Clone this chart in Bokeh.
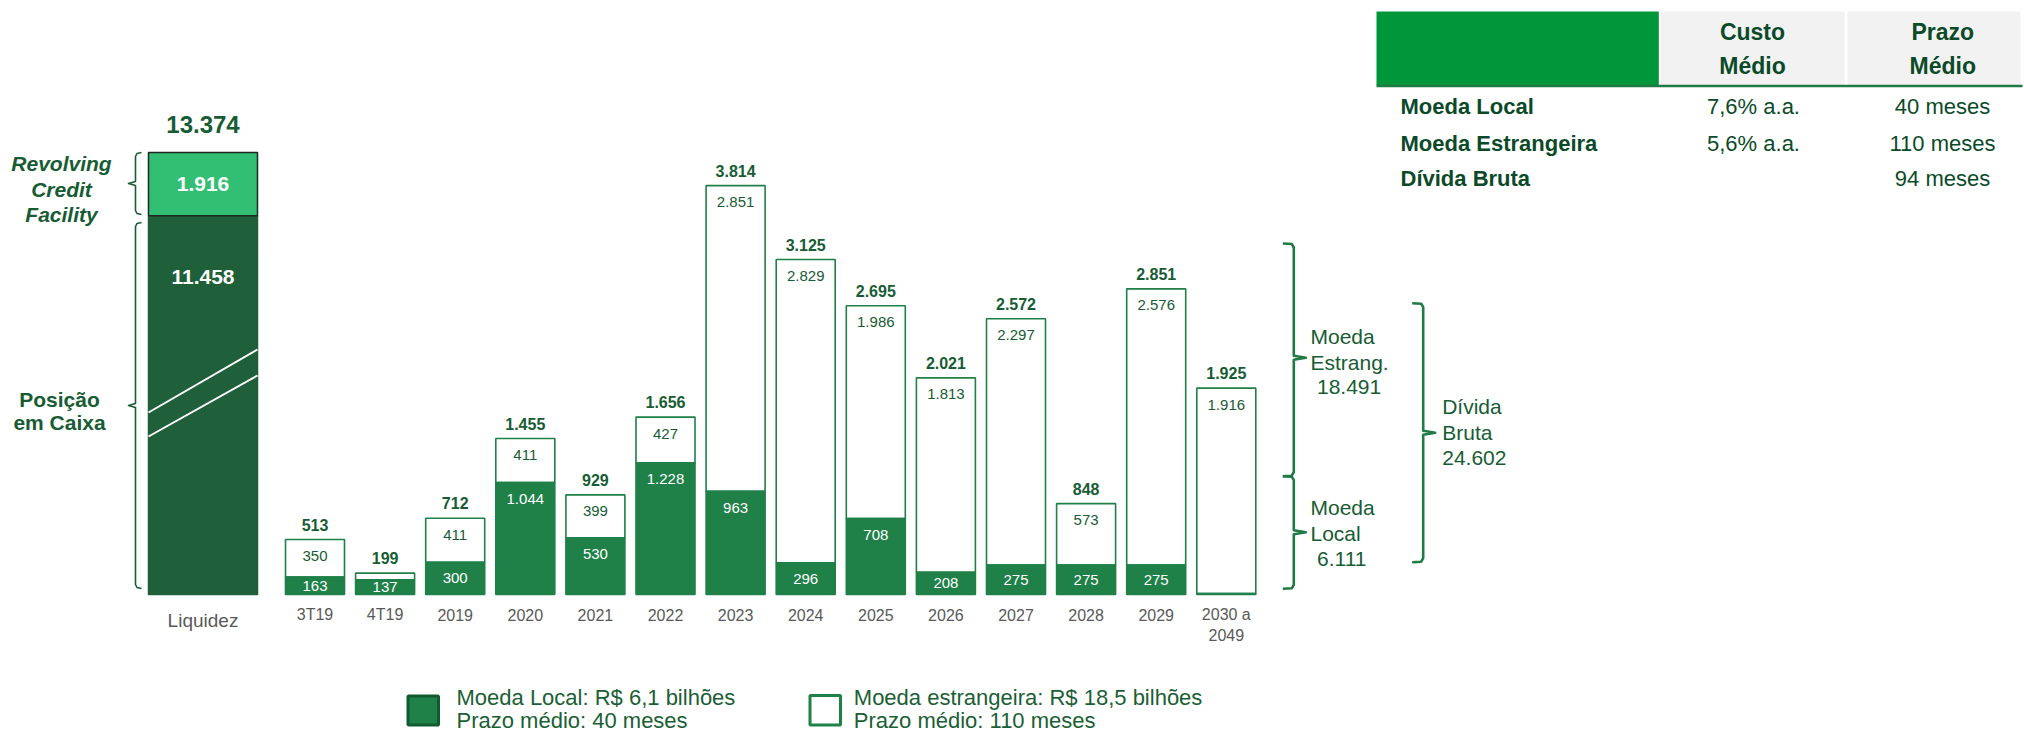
from bokeh.plotting import figure
from bokeh.models import Range1d
from bokeh.embed import file_html
from bokeh.resources import INLINE
from bokeh.core.properties import value

# ---------------- data ----------------
categories = ["3T19", "4T19", "2019", "2020", "2021", "2022", "2023", "2024",
              "2025", "2026", "2027", "2028", "2029", "2030 a\n2049"]
moeda_local = [163, 137, 300, 1044, 530, 1228, 963, 296, 708, 208, 275, 275, 275, 9]
moeda_estrangeira = [350, 62, 411, 411, 399, 427, 2851, 2829, 1986, 1813, 2297, 573, 2576, 1916]
totais = [513, 199, 712, 1455, 929, 1656, 3814, 3125, 2695, 2021, 2572, 848, 2851, 1925]

liquidez_label = "Liquidez"
posicao_caixa = 11458
revolving_credit = 1916
liquidez_total = 13374

resumo_estrang = 18491
resumo_local = 6111
resumo_bruta = 24602

tabela_linhas = ["Moeda Local", "Moeda Estrangeira", "Dívida Bruta"]
tabela_custo = ["7,6% a.a.", "5,6% a.a.", ""]
tabela_prazo = ["40 meses", "110 meses", "94 meses"]
tabela_cab = [["Custo", "Médio"], ["Prazo", "Médio"]]

legenda = [["Moeda Local: R$ 6,1 bilhões", "Prazo médio: 40 meses"],
           ["Moeda estrangeira: R$ 18,5 bilhões", "Prazo médio: 110 meses"]]

# ---------------- styles ----------------
FONT = "Liberation Sans"
LOCAL_C = "#1f8048"
CASH_C = "#1f5f3a"
RCF_C = "#33bf73"
TXT_DARK = "#175c33"
TXT_TAB = "#0b4a28"
GREY = "#595959"
BRACE_C = "#1f7a45"

W, H = 2024, 735
PX_X = 70.1          # pixels per category
PX_Y = 0.1072        # pixels per R$ mi (debt)
PX_LIQ = 0.03305     # pixels per R$ mi (liquidity bar, broken scale)
BASE = 594           # canvas y of baseline
FIRST = 314.5        # canvas x of first category centre

x0 = -FIRST / PX_X
y0 = -(H - BASE) / PX_Y
l0 = -(H - BASE) / PX_LIQ

p = figure(width=W, height=H, output_backend="svg", toolbar_location=None,
           x_axis_type=None, y_axis_type=None, min_border=0,
           x_range=Range1d(x0, x0 + W / PX_X), y_range=Range1d(y0, y0 + H / PX_Y))
p.extra_y_ranges = {"liq": Range1d(l0, l0 + H / PX_LIQ)}
p.outline_line_color = None
p.grid.visible = False
p.background_fill_color = "white"


def X(px):  # canvas x -> data x
    return x0 + px / PX_X


def Y(py):  # canvas y -> data y (debt scale)
    return y0 + (H - py) / PX_Y


def fmt(v):
    return f"{v:,}".replace(",", ".")


idx = list(range(len(categories)))
BW = 59 / PX_X
tops = [a + b for a, b in zip(moeda_local, moeda_estrangeira)]

# debt bars
p.vbar(x=idx, bottom=moeda_local, top=tops, width=BW, fill_color="white",
       line_color=LOCAL_C, line_width=1.6)
p.vbar(x=idx, bottom=0, top=moeda_local, width=BW, fill_color=LOCAL_C,
       line_color=LOCAL_C, line_width=1.6)

# value labels
off = 16.5 / PX_Y
loc_lab_y = [max(v - off, v / 2) for v in moeda_local]
loc_idx = [i for i, v in zip(idx, moeda_local) if v > 50]
p.text(x=loc_idx, y=[loc_lab_y[i] for i in loc_idx], text=[fmt(moeda_local[i]) for i in loc_idx],
       text_align="center", text_baseline="middle", text_color="white",
       text_font=value(FONT), text_font_size="15px")
est_idx = [i for i, v in zip(idx, moeda_estrangeira) if v > 100]
p.text(x=est_idx, y=[tops[i] - off for i in est_idx], text=[fmt(moeda_estrangeira[i]) for i in est_idx],
       text_align="center", text_baseline="middle", text_color=TXT_DARK,
       text_font=value(FONT), text_font_size="15px")
p.text(x=idx, y=[t + 15 / PX_Y for t in tops], text=[fmt(v) for v in totais],
       text_align="center", text_baseline="middle", text_color=TXT_DARK,
       text_font=value(FONT), text_font_size="16px", text_font_style="bold")

# category labels
l1 = [c.split("\n")[0] for c in categories]
p.text(x=idx, y=-20 / PX_Y, text=l1, text_align="center", text_baseline="middle",
       text_color=GREY, text_font=value(FONT), text_font_size="16px")
l2i = [i for i, c in enumerate(categories) if "\n" in c]
p.text(x=l2i, y=-40 / PX_Y, text=[categories[i].split("\n")[1] for i in l2i], text_align="center",
       text_baseline="middle", text_color=GREY, text_font=value(FONT), text_font_size="16px")

# liquidity bar (own, broken scale)
LX = X(202.5)
LW = 109 / PX_X
p.vbar(x=[LX], bottom=0, top=[posicao_caixa], width=LW, y_range_name="liq",
       fill_color=CASH_C, line_color=CASH_C, line_width=1.5)
p.vbar(x=[LX], bottom=[posicao_caixa], top=[posicao_caixa + revolving_credit], width=LW,
       y_range_name="liq", fill_color=RCF_C, line_color="#1a2a20", line_width=1.5)
# break marks
p.segment(x0=[X(148), X(148)], y0=[Y(412), Y(436)], x1=[X(257), X(257)], y1=[Y(349), Y(375)],
          line_color="white", line_width=2)
p.text(x=[LX], y=[posicao_caixa + revolving_credit / 2], y_range_name="liq", text=[fmt(revolving_credit)],
       text_align="center", text_baseline="middle", text_color="white", text_font=value(FONT),
       text_font_size="21px", text_font_style="bold")
p.text(x=[LX], y=[posicao_caixa - 61 / PX_LIQ], y_range_name="liq", text=[fmt(posicao_caixa)],
       text_align="center", text_baseline="middle", text_color="white", text_font=value(FONT),
       text_font_size="21px", text_font_style="bold")
p.text(x=[LX], y=[liquidez_total + 28 / PX_LIQ], y_range_name="liq", text=[fmt(liquidez_total)],
       text_align="center", text_baseline="middle", text_color=TXT_DARK, text_font=value(FONT),
       text_font_size="24px", text_font_style="bold")
p.text(x=[LX], y=[-26 / PX_Y], text=[liquidez_label], text_align="center", text_baseline="middle",
       text_color=GREY, text_font=value(FONT), text_font_size="19px")


# braces
def brace_left(xv, top, bot, tip, hook=6, tipl=7):
    xs = [xv + hook, xv + 1.5, xv, xv, xv - tipl, xv, xv, xv + 1.5, xv + hook]
    ys = [top, top + 1, top + 4, tip - 2, tip, tip + 2, bot - 4, bot - 1, bot]
    return [X(a) for a in xs], [Y(b) for b in ys]


def brace_right(xv, top, bot, tip, hook=11, tipl=12):
    xs = [xv - hook, xv - 2, xv, xv, xv + tipl, xv, xv, xv - 2, xv - hook]
    ys = [top, top + 0.5, top + 4, tip - 2, tip, tip + 2, bot - 4, bot - 0.5, bot]
    return [X(a) for a in xs], [Y(b) for b in ys]


xsL, ysL = [], []
for args in [(135, 152, 214, 183), (135, 222, 588, 405)]:
    a, b = brace_left(*args)
    xsL.append(a); ysL.append(b)
p.multi_line(xs=xsL, ys=ysL, line_color=TXT_DARK, line_width=1.6, line_join="round")

xsR, ysR = [], []
for args in [(1293.3, 243, 475.7, 357.3), (1293.3, 475.7, 588.3, 531.7), (1422.7, 302.7, 561.7, 432.3)]:
    a, b = brace_right(*args)
    xsR.append(a); ysR.append(b)
p.multi_line(xs=xsR, ys=ysR, line_color=BRACE_C, line_width=2.6, line_join="round")

# side texts
p.text(x=[X(61)] * 3, y=[Y(163), Y(188.5), Y(214)], text=["Revolving", "Credit", "Facility"],
       text_align="center", text_baseline="middle", text_color=TXT_DARK, text_font=value(FONT),
       text_font_size="21px", text_font_style="bold italic")
p.text(x=[X(59)] * 2, y=[Y(398.7), Y(422.3)], text=["Posição", "em Caixa"],
       text_align="center", text_baseline="middle", text_color=TXT_DARK, text_font=value(FONT),
       text_font_size="21px", text_font_style="bold")

p.text(x=[X(1310), X(1310), X(1316.5)], y=[Y(336), Y(361.7), Y(386.7)],
       text=["Moeda", "Estrang.", fmt(resumo_estrang)], text_align="left", text_baseline="middle",
       text_color=TXT_DARK, text_font=value(FONT), text_font_size="21px")
p.text(x=[X(1310), X(1310), X(1316.5)], y=[Y(506.7), Y(533.3), Y(558.3)],
       text=["Moeda", "Local", fmt(resumo_local)], text_align="left", text_baseline="middle",
       text_color=TXT_DARK, text_font=value(FONT), text_font_size="21px")
p.text(x=[X(1441.7)] * 3, y=[Y(406), Y(431.7), Y(457.3)],
       text=["Dívida", "Bruta", fmt(resumo_bruta)], text_align="left", text_baseline="middle",
       text_color=TXT_DARK, text_font=value(FONT), text_font_size="21px")

# table
p.quad(left=[X(1376)], right=[X(1658.3)], top=[Y(11)], bottom=[Y(85)], fill_color="#00963a", line_color=None)
p.quad(left=[X(1660), X(1847)], right=[X(1844), X(2020)], top=[Y(11)] * 2, bottom=[Y(85)] * 2,
       fill_color="#f2f2f2", line_color=None)
p.segment(x0=[X(1376)], y0=[Y(85.5)], x1=[X(2022)], y1=[Y(85.5)], line_color=BRACE_C, line_width=2.5)
for cx, (h1, h2) in zip([1752, 1942.3], tabela_cab):
    p.text(x=[X(cx)] * 2, y=[Y(31.7), Y(65)], text=[h1, h2], text_align="center", text_baseline="middle",
           text_color=TXT_TAB, text_font=value(FONT), text_font_size="23px", text_font_style="bold")
row_y = [Y(106), Y(142.7), Y(178.3)]
p.text(x=[X(1400)] * 3, y=row_y, text=tabela_linhas, text_align="left", text_baseline="middle",
       text_color=TXT_TAB, text_font=value(FONT), text_font_size="22px", text_font_style="bold")
p.text(x=[X(1753)] * 3, y=row_y, text=tabela_custo, text_align="center", text_baseline="middle",
       text_color=TXT_TAB, text_font=value(FONT), text_font_size="22px")
p.text(x=[X(1942)] * 3, y=row_y, text=tabela_prazo, text_align="center", text_baseline="middle",
       text_color=TXT_TAB, text_font=value(FONT), text_font_size="22px")

# legend
p.quad(left=[X(407.5)], right=[X(438)], top=[Y(695.5)], bottom=[Y(724.5)], fill_color=LOCAL_C,
       line_color="#105c30", line_width=3)
p.quad(left=[X(809.5)], right=[X(840)], top=[Y(695)], bottom=[Y(724.5)], fill_color="white",
       line_color=LOCAL_C, line_width=3)
for lx, (t1, t2) in zip([456, 853.3], legenda):
    p.text(x=[X(lx)] * 2, y=[Y(697), Y(720)], text=[t1, t2], text_align="left", text_baseline="middle",
           text_color="#1a6034", text_font=value(FONT), text_font_size="22px")

open("out.html", "w").write(file_html(p, INLINE))
